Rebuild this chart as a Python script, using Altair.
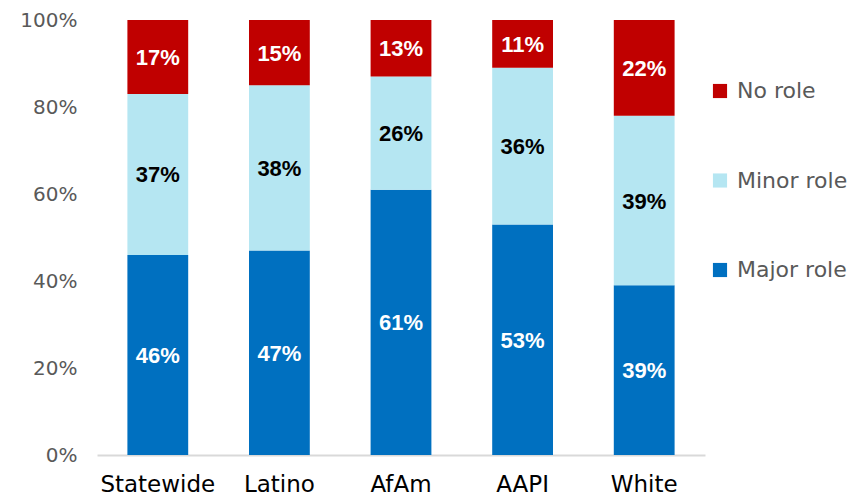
import altair as alt
import pandas as pd

groups = ["Statewide", "Latino", "AfAm", "AAPI", "White"]
roles = ["Major role", "Minor role", "No role"]
major = [46, 47, 61, 53, 39]
minor = [37, 38, 26, 36, 39]
norole = [17, 15, 13, 11, 22]
colors = ["#0070C0", "#B5E6F2", "#C00000"]
label_colors = ["white", "black", "white"]

rows = []
for i, g in enumerate(groups):
    for j, (r, vals) in enumerate(zip(roles, [major, minor, norole])):
        rows.append({"group": g, "role": r, "value": vals[i], "ord": j,
                     "lc": label_colors[j]})
df = pd.DataFrame(rows)

base = alt.Chart(df)

x = alt.X("group:N", sort=groups, title=None,
          scale=alt.Scale(paddingInner=0.5, paddingOuter=0.25),
          axis=alt.Axis(labelAngle=0, labelFontSize=23, labelColor="black",
                        labelFont="DejaVu Sans", labelPadding=18, ticks=False,
                        domainColor="#D9D9D9", domainWidth=2))

bars = base.mark_bar().encode(
    x=x,
    y=alt.Y("value:Q", stack="normalize", title=None,
            scale=alt.Scale(domain=[0, 1]),
            axis=alt.Axis(format="%", values=[0, 0.2, 0.4, 0.6, 0.8, 1.0],
                          grid=False, domain=False, ticks=False,
                          labelFontSize=20, labelColor="#595959",
                          labelFont="DejaVu Sans", labelPadding=20)),
    color=alt.Color("role:N",
                    scale=alt.Scale(domain=roles, range=colors),
                    sort=["No role", "Minor role", "Major role"],
                    legend=alt.Legend(title=None, orient="none",
                                      legendX=612, legendY=60,
                                      symbolType="square", symbolSize=200,
                                      symbolStrokeWidth=0,
                                      labelFontSize=22, labelFont="DejaVu Sans",
                                      labelColor="#595959", rowPadding=67.5,
                                      labelOffset=6,
                                      values=["No role", "Minor role", "Major role"])),
    order=alt.Order("ord:Q", sort="ascending"),
)

labels = base.transform_stack(
    stack="value", groupby=["group"], as_=["v0", "v1"],
    sort=[alt.SortField("ord", order="ascending")], offset="normalize"
).transform_calculate(
    mid="(datum.v0 + datum.v1) / 2",
    txt="datum.value + '%'"
).mark_text(fontSize=22, fontWeight="bold", font="Liberation Sans", dy=1).encode(
    x=alt.X("group:N", sort=groups),
    y=alt.Y("mid:Q"),
    text="txt:N",
    color=alt.Color("lc:N", scale=None),
)

chart = alt.layer(bars, labels).properties(
    width=608, height=435,
    autosize=alt.AutoSizeParams(type="none"),
    padding={"left": 89, "top": 12, "right": 150, "bottom": 43},
).configure_view(stroke=None)

chart.save("out.html", embed_options={"renderer": "svg", "actions": False})
